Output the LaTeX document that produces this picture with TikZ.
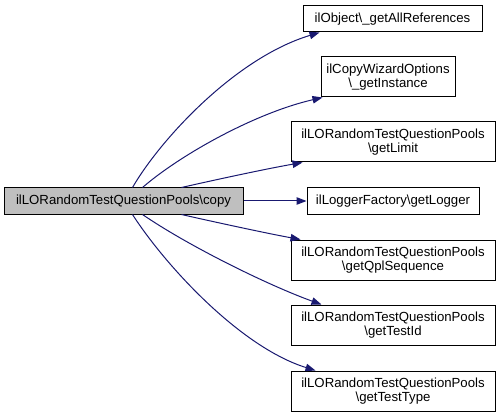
\documentclass[tikz,border=0pt]{standalone}
\usepackage{fontspec}
\setmainfont{Liberation Sans}
\usetikzlibrary{arrows.meta}
\definecolor{edgeblue}{HTML}{191970}
\definecolor{maingray}{HTML}{BFBFBF}
\tikzset{
  fn/.style={draw=black, fill=white, line width=1pt, inner sep=0pt, align=center,
    font=\fontsize{13.2pt}{14.8pt}\selectfont},
  onel/.style={minimum height=26pt},
  twol/.style={minimum height=40pt},
  call/.style={draw=edgeblue, line width=1pt, -{Triangle[length=10pt,width=7.5pt]}, fill=none},
}
\begin{document}
\begin{tikzpicture}[x=1pt,y=-1pt]
\useasboundingbox (0,0) rectangle (501,417);
\node[fn,onel,fill=maingray,minimum width=239pt] (main) at (123.5,201) {ilLORandomTestQuestionPools\textbackslash copy};
\node[fn,onel,minimum width=179pt] (allref) at (392.5,19) {ilObject\textbackslash\_getAllReferences};
\node[fn,twol,minimum width=134pt] (copywiz) at (388,77) {ilCopyWizardOptions\\\textbackslash\_getInstance};
\node[fn,twol,minimum width=204pt] (limit) at (393,142) {ilLORandomTestQuestionPools\\\textbackslash getLimit};
\node[fn,onel,minimum width=172pt] (logger) at (393,201) {ilLoggerFactory\textbackslash getLogger};
\node[fn,twol,minimum width=204pt] (qpl) at (393,260) {ilLORandomTestQuestionPools\\\textbackslash getQplSequence};
\node[fn,twol,minimum width=204pt] (testid) at (393,325) {ilLORandomTestQuestionPools\\\textbackslash getTestId};
\node[fn,twol,minimum width=204pt] (testtype) at (393,391) {ilLORandomTestQuestionPools\\\textbackslash getTestType};

\draw[call] ([xshift=129pt]main.north west) .. controls (160,140) and (235,58) .. ([xshift=17pt]allref.south west);
\draw[call] ([xshift=139pt]main.north west) .. controls (180,155) and (255,113) .. ([xshift=2pt]copywiz.south west);
\draw[call] ([xshift=178pt]main.north west) .. controls (210,181) and (265,169) .. ([xshift=12pt]limit.south west);
\draw[call] (main.east) -- (logger.west);
\draw[call] ([xshift=178pt]main.south west) .. controls (210,221) and (265,233) .. ([xshift=10pt]qpl.north west);
\draw[call] ([xshift=139pt]main.south west) .. controls (190,247) and (270,286) .. ([xshift=31pt]testid.north west);
\draw[call] ([xshift=129pt]main.south west) .. controls (165,265) and (240,347) .. ([xshift=25pt]testtype.north west);
\end{tikzpicture}
\end{document}
